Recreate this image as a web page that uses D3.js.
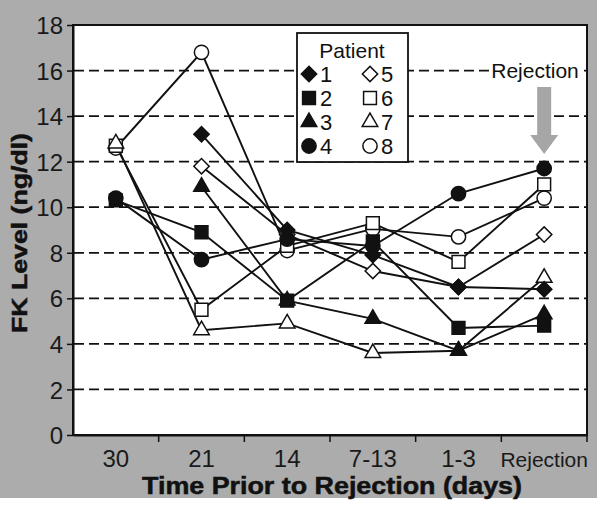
<!DOCTYPE html>
<html>
<head>
<meta charset="utf-8">
<script src="https://cdn.jsdelivr.net/npm/d3@7"></script>
<style>
  body { margin: 0; background: #fff; }
  svg { display: block; }
</style>
</head>
<body>
<div id="chart"></div>
<script>
// Time points (x categories)
const categories = ['30', '21', '14', '7-13', '1-3', 'Rejection'];

// FK level per patient, one value per time point (null = not measured)
const patient1 = [null, 13.2, 9.0, 7.9, 6.5, 6.4];
const patient2 = [10.3, 8.9, 5.9, 8.5, 4.7, 4.8];
const patient3 = [null, 10.9, 5.9, 5.1, 3.7, 5.3];
const patient4 = [10.4, 7.7, 8.6, 8.3, 10.6, 11.7];
const patient5 = [null, 11.8, 8.8, 7.2, 6.5, 8.8];
const patient6 = [12.7, 5.5, 8.3, 9.3, 7.6, 11.0];
const patient7 = [12.8, 4.6, 4.9, 3.6, 3.7, 6.9];
const patient8 = [12.6, 16.8, 8.1, 9.05, 8.7, 10.4];

const yTicks = [0, 2, 4, 6, 8, 10, 12, 14, 16, 18];
const gridValues = [2, 4, 6, 8, 10, 12, 14, 16];

const patients = [
    {name: '1', values: patient1, shape: 'diamond', filled: true},
    {name: '2', values: patient2, shape: 'square', filled: true},
    {name: '3', values: patient3, shape: 'triangle', filled: true},
    {name: '4', values: patient4, shape: 'circle', filled: true},
    {name: '5', values: patient5, shape: 'diamond', filled: false},
    {name: '6', values: patient6, shape: 'square', filled: false},
    {name: '7', values: patient7, shape: 'triangle', filled: false},
    {name: '8', values: patient8, shape: 'circle', filled: false}
];
// order in which markers are stacked (last on top)
const drawOrder = ['8', '6', '7', '5', '3', '2', '4', '1'];

const W = 600, H = 505;
const font = '"Liberation Sans", Arial, sans-serif';

const svg = d3.select('#chart').append('svg')
    .attr('width', W)
    .attr('height', H);

// grey page background
svg.append('rect')
    .attr('x', 0).attr('y', 0)
    .attr('width', 597).attr('height', 498)
    .attr('fill', '#acacac');

const x = d3.scaleBand()
    .domain(categories)
    .range([73, 587]);

const y = d3.scaleLinear()
    .domain([0, 18])
    .range([435, 25]);

const cx = d => x(d) + x.bandwidth() / 2;

// plot area
svg.append('rect')
    .attr('x', 73).attr('y', y(18))
    .attr('width', 587 - 73).attr('height', y(0) - y(18))
    .attr('fill', '#fff')
    .attr('stroke', '#111')
    .attr('stroke-width', 2);

// dashed grid
svg.append('g')
    .selectAll('line')
    .data(gridValues)
    .enter()
    .append('line')
    .attr('x1', 74).attr('x2', 586)
    .attr('y1', d => y(d)).attr('y2', d => y(d))
    .attr('stroke', '#111')
    .attr('stroke-width', 1.8)
    .attr('stroke-dasharray', '10,5');

// y axis
const yAxis = svg.append('g')
    .attr('transform', 'translate(73,0)')
    .call(d3.axisLeft(y).tickValues(yTicks).tickSize(6).tickSizeOuter(0).tickPadding(4));
yAxis.select('.domain').attr('stroke', '#111').attr('stroke-width', 2);
yAxis.selectAll('.tick line').attr('stroke', '#111').attr('stroke-width', 1.5);
yAxis.selectAll('text')
    .attr('font-family', font)
    .attr('font-size', 24)
    .attr('fill', '#1a1a1a')
    .attr('dy', '0.36em');

// x axis: labels centred in bands, ticks on band edges
const xAxis = svg.append('g')
    .attr('transform', `translate(0,${y(0)})`)
    .call(d3.axisBottom(x).tickSize(0).tickSizeOuter(0));
xAxis.select('.domain').attr('stroke', '#111').attr('stroke-width', 2);
xAxis.selectAll('text')
    .attr('font-family', font)
    .attr('font-size', d => d === 'Rejection' ? 21 : 24)
    .attr('fill', '#1a1a1a')
    .attr('dy', null)
    .attr('y', 32);

xAxis.selectAll('.edge')
    .data(categories.slice(1).map(c => x(c)).concat([x.range()[1]]))
    .enter()
    .append('line')
    .attr('class', 'edge')
    .attr('x1', d => d).attr('x2', d => d)
    .attr('y1', 0).attr('y2', 7)
    .attr('stroke', '#111')
    .attr('stroke-width', 1.5);

// axis titles
svg.append('text')
    .attr('x', 332).attr('y', 494)
    .attr('text-anchor', 'middle')
    .attr('font-family', font)
    .attr('font-weight', 'bold')
    .attr('font-size', 23)
    .attr('fill', '#111')
    .attr('stroke', '#111')
    .attr('stroke-width', 0.5)
    .attr('textLength', 380)
    .attr('lengthAdjust', 'spacingAndGlyphs')
    .text('Time Prior to Rejection (days)');

svg.append('text')
    .attr('transform', 'translate(27,233) rotate(-90)')
    .attr('text-anchor', 'middle')
    .attr('font-family', font)
    .attr('font-weight', 'bold')
    .attr('font-size', 22)
    .attr('fill', '#111')
    .attr('stroke', '#111')
    .attr('stroke-width', 0.5)
    .attr('textLength', 200)
    .attr('lengthAdjust', 'spacingAndGlyphs')
    .text('FK Level (ng/dl)');

// symbol helpers
function symbolPath(shape) {
    if (shape === 'diamond') return d3.symbol().type(d3.symbolSquare).size(118)();
    if (shape === 'square') return d3.symbol().type(d3.symbolSquare).size(165)();
    if (shape === 'triangle') return d3.symbol().type(d3.symbolTriangle).size(105)();
    return d3.symbol().type(d3.symbolCircle).size(160)();
}
function drawSymbol(g, p, px, py) {
    g.append('path')
        .attr('d', symbolPath(p.shape))
        .attr('transform', `translate(${px},${py})` + (p.shape === 'diamond' ? ' rotate(45)' : ''))
        .attr('fill', p.filled ? '#111' : '#fff')
        .attr('stroke', '#111')
        .attr('stroke-width', 1.5);
}

// series lines
const line = d3.line()
    .defined(d => d.v !== null)
    .x(d => cx(d.c))
    .y(d => y(d.v));

const lines = svg.append('g');
patients.forEach(p => {
    const pts = categories.map((c, i) => ({c: c, v: p.values[i]}));
    lines.append('path')
        .attr('d', line(pts))
        .attr('fill', 'none')
        .attr('stroke', '#111')
        .attr('stroke-width', 1.9);
});

// markers
const marks = svg.append('g');
drawOrder.forEach(name => {
    const p = patients.find(q => q.name === name);
    p.values.forEach((v, i) => {
        if (v === null) return;
        drawSymbol(marks, p, cx(categories[i]), y(v));
    });
});

// legend
const legend = svg.append('g');
legend.append('rect')
    .attr('x', 297).attr('y', 33)
    .attr('width', 111).attr('height', 129)
    .attr('fill', '#fff')
    .attr('stroke', '#111')
    .attr('stroke-width', 1.8);
legend.append('text')
    .attr('x', 352).attr('y', 58)
    .attr('text-anchor', 'middle')
    .attr('font-family', font)
    .attr('font-size', 21)
    .attr('fill', '#111')
    .text('Patient');
patients.forEach((p, i) => {
    const col = Math.floor(i / 4), row = i % 4;
    const sx = col === 0 ? 309 : 370;
    const sy = 74 + row * 24;
    drawSymbol(legend, p, sx, sy);
    legend.append('text')
        .attr('x', sx + 11).attr('y', sy + 8)
        .attr('font-family', font)
        .attr('font-size', 22)
        .attr('fill', '#111')
        .text(p.name);
});

// rejection annotation
const rx = cx('Rejection');
svg.append('rect')
    .attr('x', 490).attr('y', 58)
    .attr('width', 92).attr('height', 24)
    .attr('fill', '#fff');
svg.append('text')
    .attr('x', 535).attr('y', 78)
    .attr('text-anchor', 'middle')
    .attr('font-family', font)
    .attr('font-size', 21)
    .attr('fill', '#111')
    .text('Rejection');
svg.append('path')
    .attr('d', `M${rx - 7},87 L${rx + 7},87 L${rx + 7},135 L${rx + 14},135 L${rx},154 L${rx - 14},135 L${rx - 7},135 Z`)
    .attr('fill', '#a6a6a6');
</script>
</body>
</html>
